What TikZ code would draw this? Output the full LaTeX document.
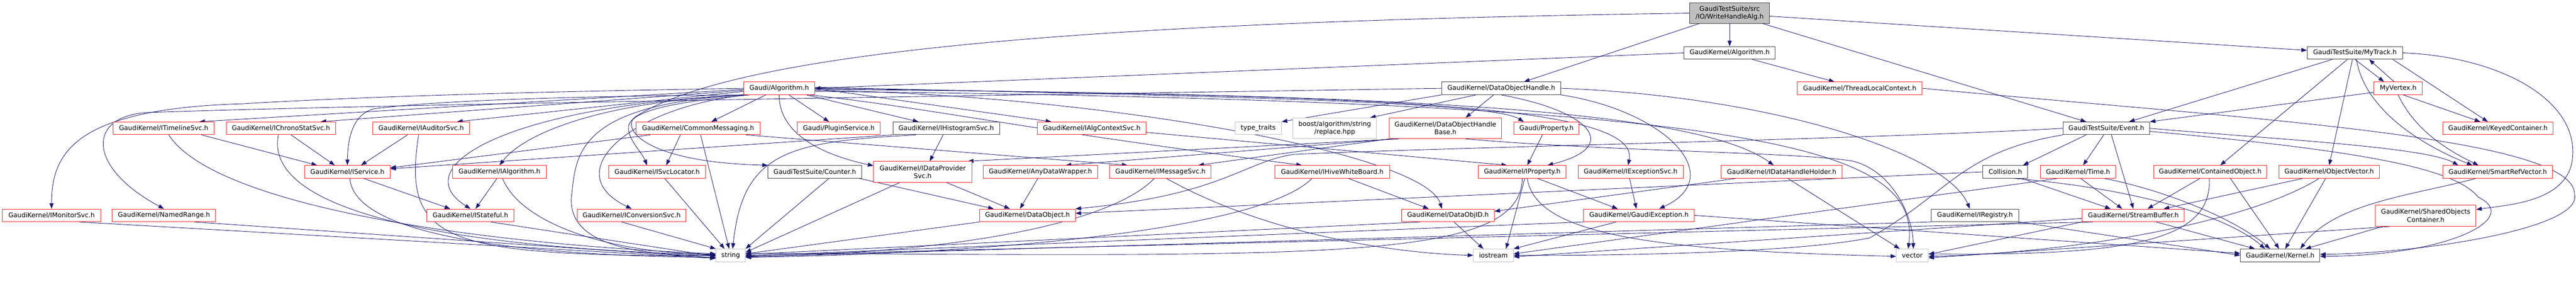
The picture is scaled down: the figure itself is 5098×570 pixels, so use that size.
\documentclass[tikz,border=0pt]{standalone}
\usepackage{fontspec}
\setmainfont{DejaVu Sans}
\usetikzlibrary{arrows.meta}
\definecolor{edgec}{HTML}{191970}
\definecolor{redc}{HTML}{FF2020}
\definecolor{blkc}{HTML}{404040}
\definecolor{gryc}{HTML}{BFBFBF}
\definecolor{rootfill}{HTML}{BFBFBF}
\pgfdeclarelayer{bg}
\pgfsetlayers{bg,main}
\newcommand\gnode[7]{\node[#1,minimum width=#5pt,minimum height=#6pt] (#2) at (#3,#4) {#7};}
\begin{document}
\begin{tikzpicture}[x=1pt,y=-1pt,
  nbox/.style={draw, fill=white, line width=1pt, inner sep=0pt, align=center, text=black,
               font=\fontsize{12.9}{15.5}\selectfont},
  redb/.style={nbox, draw=redc},
  blk/.style={nbox, draw=blkc},
  gry/.style={nbox, draw=gryc},
  rootbox/.style={nbox, draw=blkc, fill=rootfill},
  conn/.style={draw=edgec, line width=0.9pt, -{Triangle[length=11pt,width=8pt]}}]
\useasboundingbox (0,0) rectangle (5098,570);
% ---------------- nodes
\gnode{rootbox}{root}{3423}{26}{158}{40}{GaudiTestSuite/src\\/IO/WriteHandleAlg.h}
\gnode{blk}{GKAlg}{3423}{104.5}{180}{25}{GaudiKernel/Algorithm.h}
\gnode{blk}{MyTrack}{4660.5}{104.5}{189}{25}{GaudiTestSuite/MyTrack.h}
\gnode{redb}{GA}{1542}{174.5}{140}{25}{Gaudi/Algorithm.h}
\gnode{blk}{DOH}{2971}{174.5}{236}{25}{GaudiKernel/DataObjectHandle.h}
\gnode{redb}{TLC}{3680.5}{174.5}{247}{25}{GaudiKernel/ThreadLocalContext.h}
\gnode{redb}{MyVertex}{4746}{174.5}{96}{25}{MyVertex.h}
% row 3
\gnode{redb}{ITimelineSvc}{324}{253.5}{200}{25}{GaudiKernel/ITimelineSvc.h}
\gnode{redb}{IChronoStatSvc}{556}{253.5}{216}{25}{GaudiKernel/IChronoStatSvc.h}
\gnode{redb}{IAuditorSvc}{833.5}{253.5}{191}{25}{GaudiKernel/IAuditorSvc.h}
\gnode{redb}{CommonMessaging}{1381.5}{253.5}{245}{25}{GaudiKernel/CommonMessaging.h}
\gnode{redb}{PluginService}{1660}{253.5}{164}{25}{Gaudi/PluginService.h}
\gnode{blk}{IHistogramSvc}{1872.5}{253.5}{211}{25}{GaudiKernel/IHistogramSvc.h}
\gnode{redb}{IAlgContextSvc}{2160.5}{253.5}{215}{25}{GaudiKernel/IAlgContextSvc.h}
\gnode{gry}{typetraits}{2490}{253.5}{92}{25}{type\_traits}
\gnode{gry}{boost}{2641.5}{253.5}{165}{41}{boost/algorithm/string\\/replace.hpp}
\gnode{redb}{DOHBase}{2860.5}{253.5}{223}{41}{GaudiKernel/DataObjectHandle\\Base.h}
\gnode{redb}{Property}{3060.5}{253.5}{129}{25}{Gaudi/Property.h}
\gnode{blk}{Event}{4168.5}{253.5}{171}{25}{GaudiTestSuite/Event.h}
\gnode{redb}{KeyedContainer}{4943.5}{253.5}{219}{25}{GaudiKernel/KeyedContainer.h}
% row 4
\gnode{redb}{IService}{687.5}{339.5}{169}{25}{GaudiKernel/IService.h}
\gnode{redb}{IAlgorithm}{988.5}{339.5}{185}{25}{GaudiKernel/IAlgorithm.h}
\gnode{redb}{ISvcLocator}{1300.5}{339.5}{191}{25}{GaudiKernel/ISvcLocator.h}
\gnode{blk}{Counter}{1612.5}{339.5}{185}{25}{GaudiTestSuite/Counter.h}
\gnode{redb}{IDataProviderSvc}{1826}{339.5}{194}{41}{GaudiKernel/IDataProvider\\Svc.h}
\gnode{redb}{AnyDataWrapper}{2059}{339.5}{226}{25}{GaudiKernel/AnyDataWrapper.h}
\gnode{redb}{IMessageSvc}{2296.5}{339.5}{201}{25}{GaudiKernel/IMessageSvc.h}
\gnode{redb}{IHiveWhiteBoard}{2636.5}{339.5}{227}{25}{GaudiKernel/IHiveWhiteBoard.h}
\gnode{redb}{IProperty}{3012.5}{339.5}{173}{25}{GaudiKernel/IProperty.h}
\gnode{redb}{IExceptionSvc}{3227}{339.5}{208}{25}{GaudiKernel/IExceptionSvc.h}
\gnode{redb}{IDataHandleHolder}{3526}{339.5}{240}{25}{GaudiKernel/IDataHandleHolder.h}
\gnode{blk}{Collision}{3968.5}{339.5}{89}{25}{Collision.h}
\gnode{redb}{Time}{4112.5}{339.5}{149}{25}{GaudiKernel/Time.h}
\gnode{redb}{ContainedObject}{4374}{339.5}{224}{25}{GaudiKernel/ContainedObject.h}
\gnode{redb}{ObjectVector}{4609.5}{339.5}{199}{25}{GaudiKernel/ObjectVector.h}
\gnode{redb}{SmartRefVector}{4943}{339.5}{218}{25}{GaudiKernel/SmartRefVector.h}
% row 5
\gnode{redb}{IMonitorSvc}{102}{425.5}{194}{25}{GaudiKernel/IMonitorSvc.h}
\gnode{redb}{NamedRange}{324.5}{425.5}{205}{25}{GaudiKernel/NamedRange.h}
\gnode{redb}{IStateful}{931}{425.5}{172}{25}{GaudiKernel/IStateful.h}
\gnode{redb}{IConversionSvc}{1250}{425.5}{216}{25}{GaudiKernel/IConversionSvc.h}
\gnode{redb}{DataObject}{2033.5}{425.5}{189}{25}{GaudiKernel/DataObject.h}
\gnode{redb}{DataObjID}{2865.5}{425.5}{183}{25}{GaudiKernel/DataObjID.h}
\gnode{redb}{GaudiException}{3243.5}{425.5}{219}{25}{GaudiKernel/GaudiException.h}
\gnode{blk}{IRegistry}{3908.5}{425.5}{173}{25}{GaudiKernel/IRegistry.h}
\gnode{redb}{StreamBuffer}{4222}{425.5}{202}{25}{GaudiKernel/StreamBuffer.h}
\gnode{redb}{SharedObjectsContainer}{4800.5}{426}{199}{42}{GaudiKernel/SharedObjects\\Container.h}
% row 6
\gnode{gry}{string}{1446}{504.5}{58}{25}{string}
\gnode{gry}{iostream}{2955.5}{504.5}{79}{25}{iostream}
\gnode{gry}{vector}{3784.5}{504.5}{63}{25}{vector}
\gnode{blk}{Kernel}{4512.5}{504.5}{157}{25}{GaudiKernel/Kernel.h}
% ---------------- edges
\begin{pgfonlayer}{bg}
\fill[white] (0,0) rectangle (5098,570);
% root
\draw[conn] (root.south) -- (GKAlg.north);
\draw[conn] ([xshift=-60pt]root.south) -- ([xshift=45pt]DOH.north);
\draw[conn] ([xshift=65pt]root.south) -- ([xshift=-40pt]Event.north);
\draw[conn] ([yshift=-6pt]root.east) -- ([yshift=5pt]MyTrack.west);
\draw[conn] (root.west) .. controls (2400,40) and (1500,80) .. (1262,228) .. controls (1225,245) and (1260,320) .. (Counter.north west);
% GaudiKernel/Algorithm.h
\draw[conn] (GKAlg.west) -- (GA.east);
\draw[conn] ([xshift=45pt]GKAlg.south) -- ([xshift=-50pt]TLC.north);
% Gaudi/Algorithm.h
\draw[conn] (GA.west) .. controls (1000,182) and (700,192) .. (480,205) .. controls (150,215) and (102,300) .. (IMonitorSvc.north);
\draw[conn] ([yshift=-2pt]GA.west) -- ([xshift=-30pt]ITimelineSvc.north east);
\draw[conn] ([yshift=-4pt]GA.west) -- ([xshift=-30pt]IChronoStatSvc.north east);
\draw[conn] ([yshift=-6pt]GA.west) -- ([xshift=-25pt]IAuditorSvc.north east);
\draw[conn] (GA.south west) .. controls (1100,190) and (850,200) .. (740,215) .. controls (700,225) and (688,270) .. (IService.north);
\draw[conn] ([xshift=3pt]GA.south west) .. controls (1200,200) and (1040,260) .. (IAlgorithm.north);
\draw[conn] ([xshift=1pt]GA.south west) .. controls (1000,210) and (800,330) .. (IStateful.north);
\draw[conn] ([xshift=8pt]GA.south west) .. controls (1250,210) and (1100,340) .. (IConversionSvc.north);
\draw[conn] ([xshift=12pt]GA.south west) .. controls (1350,200) and (1260,215) .. (1245,245) .. controls (1237,270) and (1270,300) .. ([xshift=-20pt]ISvcLocator.north);
\draw[conn] ([xshift=5pt]GA.south west) .. controls (1150,205) and (1140,300) .. (1132,380) .. controls (1115,480) and (1250,505) .. (string.west);
\draw[conn] (GA) -- (CommonMessaging);
\draw[conn] (GA) -- (PluginService);
\draw[conn] (GA) -- ([xshift=-55pt]IHistogramSvc.north);
\draw[conn] (GA.south) .. controls (1541,250) and (1600,300) .. ([yshift=12pt]IDataProviderSvc.west);
\draw[conn] (GA.east) -- ([xshift=-80pt]IAlgContextSvc.north);
\draw[conn] ([xshift=-10pt]GA.south east) .. controls (1850,215) and (1990,250) .. ([xshift=-60pt]IHiveWhiteBoard.north);
\draw[conn] ([yshift=2pt]GA.east) .. controls (2400,190) and (2950,200) .. ([xshift=-45pt]Property.north);
\draw[conn] (GA.east) .. controls (2600,190) and (3250,195) .. ([xshift=-5pt]IExceptionSvc.north);
\draw[conn] ([yshift=-2pt]GA.east) .. controls (2700,185) and (3350,210) .. ([xshift=-16pt]IDataHandleHolder.north);
\draw[conn] ([yshift=-4pt]GA.east) .. controls (2150,185) and (2820,300) .. ([xshift=-12pt]DataObjID.north);
\draw[conn] ([yshift=-6pt]GA.east) .. controls (3500,200) and (3800,290) .. ([xshift=-8pt]vector.north);
% DataObjectHandle.h
\draw[conn] ([xshift=-50pt]DOH.south) -- ([xshift=70pt]boost.north);
\draw[conn] ([xshift=-15pt]DOH.south) -- ([xshift=40pt]DOHBase.north);
\draw[conn] (DOH.south west) -- (typetraits.north east);
\draw[conn] (DOH.west) .. controls (2000,188) and (800,205) .. (300,222) .. controls (170,225) and (170,330) .. (NamedRange.north);
\draw[conn] (DOH.south) .. controls (3150,220) and (3210,290) .. ([xshift=50pt]IProperty.north);
\draw[conn] (DOH.south east) .. controls (3300,220) and (3420,350) .. ([xshift=40pt]GaudiException.north);
\draw[conn] (DOH.east) .. controls (3500,190) and (3850,300) .. ([xshift=-10pt]IRegistry.north);
% ThreadLocalContext
\draw[conn] (TLC.east) .. controls (4450,235) and (5100,270) .. (5095,385) .. controls (5110,450) and (4800,500) .. ([yshift=2pt]Kernel.east);
% MyTrack / MyVertex
\draw[conn] (MyTrack.south) -- ([xshift=-28pt]MyVertex.north);
\draw[conn] ([xshift=-8pt]MyVertex.north) -- ([xshift=28pt]MyTrack.south);
\draw[conn] ([xshift=-45pt]MyTrack.south) -- ([xshift=45pt]Event.north);
\draw[conn] ([xshift=75pt]MyTrack.south) -- ([xshift=-20pt]KeyedContainer.north);
\draw[conn] ([xshift=-15pt]MyTrack.south) -- ([xshift=20pt]ContainedObject.north);
\draw[conn] ([xshift=-5pt]MyTrack.south) -- (ObjectVector.north);
\draw[conn] ([xshift=3pt]MyTrack.south) .. controls (4680,220) and (4800,290) .. ([xshift=-50pt]SmartRefVector.north);
\draw[conn] (MyTrack.east) .. controls (4950,112) and (5110,200) .. (5090,320) .. controls (5075,400) and (4960,405) .. ([yshift=12pt]SharedObjectsContainer.east);
\draw[conn] ([yshift=-8pt]MyVertex.west) -- (Event.north east);
\draw[conn] ([xshift=10pt]MyVertex.south) -- ([xshift=-35pt]KeyedContainer.north);
\draw[conn] (MyVertex.south) .. controls (4780,260) and (4850,300) .. ([xshift=-38pt]SmartRefVector.north);
% Event
\draw[conn] ([xshift=-40pt]Event.south) -- ([xshift=35pt]Collision.north);
\draw[conn] ([xshift=-5pt]Event.south) -- ([xshift=10pt]Time.north);
\draw[conn] ([xshift=10pt]Event.south) -- (StreamBuffer.north);
\draw[conn] (Event.west) .. controls (3700,275) and (2900,290) .. (2560,305) .. controls (2460,320) and (2420,385) .. (DataObject.north east);
\draw[conn] (Event.east) .. controls (4500,275) and (4800,290) .. ([xshift=-78pt]SmartRefVector.north);
\draw[conn] ([yshift=-6pt]Event.east) .. controls (4700,300) and (4860,335) .. (4905,390) .. controls (4990,430) and (4850,505) .. ([yshift=-2pt]Kernel.east);
\draw[conn] (Event.south west) .. controls (3880,300) and (3860,380) .. (3700,470) .. controls (3550,500) and (3200,505) .. (iostream.east);
% Collision, Time
\draw[conn] (Collision.west) -- ([yshift=4pt]DataObject.east);
\draw[conn] ([xshift=33pt]Collision.south) -- ([xshift=-45pt]StreamBuffer.north);
\draw[conn] ([xshift=17pt]Collision.south) .. controls (4200,370) and (4400,420) .. ([xshift=-30pt]Kernel.north);
\draw[conn] ([xshift=5pt]Time.south) -- ([xshift=-22pt]StreamBuffer.north);
\draw[conn] ([xshift=52pt]Time.south) .. controls (4280,375) and (4420,430) .. ([xshift=-20pt]Kernel.north);
\draw[conn] ([xshift=-40pt]Time.south) -- ([yshift=3pt]iostream.east);
% StreamBuffer
\draw[conn] ([xshift=45pt]StreamBuffer.south) -- ([xshift=-50pt]Kernel.north);
\draw[conn] (StreamBuffer.south west) -- ([yshift=2pt]vector.east);
\draw[conn] ([yshift=-6pt]StreamBuffer.west) -- ([yshift=-3pt]iostream.east);
\draw[conn] ([xshift=-80pt]StreamBuffer.south) -- (string.east);
% ContainedObject, ObjectVector, SmartRefVector, SharedObjectsContainer
\draw[conn] ([xshift=-20pt]ContainedObject.south) -- ([xshift=28pt]StreamBuffer.north);
\draw[conn] ([xshift=40pt]ContainedObject.south) -- ([xshift=-2pt]Kernel.north);
\draw[conn] ([xshift=-2pt]ContainedObject.south) .. controls (4380,480) and (4200,505) .. ([yshift=3pt]vector.east);
\draw[conn] ([xshift=-52pt]ObjectVector.south) -- ([xshift=60pt]StreamBuffer.north);
\draw[conn] ([xshift=-7pt]ObjectVector.south) -- ([xshift=10pt]Kernel.north);
\draw[conn] ([xshift=-20pt]ObjectVector.south) .. controls (4450,440) and (4100,500) .. ([yshift=-2pt]vector.east);
\draw[conn] ([xshift=-43pt]SmartRefVector.south) .. controls (4780,385) and (4620,400) .. ([xshift=40pt]Kernel.north);
\draw[conn] ([xshift=-85pt]SharedObjectsContainer.south) -- ([xshift=50pt]Kernel.north);
\draw[conn] ([xshift=-70pt]SharedObjectsContainer.south) -- ([yshift=-5pt]vector.east);
% IRegistry, GaudiException, DataObjID
\draw[conn] (IRegistry.south east) -- (Kernel.west);
\draw[conn] (IRegistry.south west) -- ([yshift=-3pt]string.east);
\draw[conn] (GaudiException.east) -- ([yshift=4pt]Kernel.west);
\draw[conn] ([xshift=-45pt]GaudiException.south) -- (iostream.north east);
\draw[conn] (GaudiException.south west) -- ([yshift=-1pt]string.east);
\draw[conn] ([xshift=12pt]DataObjID.south) -- ([xshift=-20pt]iostream.north);
\draw[conn] ([xshift=-55pt]DataObjID.south) -- ([yshift=2pt]string.east);
% IDataHandleHolder, IExceptionSvc, IProperty, Property
\draw[conn] ([xshift=12pt]IDataHandleHolder.south) -- ([xshift=-25pt]vector.north);
\draw[conn] ([xshift=-90pt]IDataHandleHolder.south) -- ([yshift=8pt]DataObjID.east);
\draw[conn] ([xshift=-2pt]IExceptionSvc.south) -- ([xshift=-5pt]GaudiException.north);
\draw[conn] ([xshift=30pt]IProperty.south) -- ([xshift=-42pt]GaudiException.north);
\draw[conn] ([xshift=5pt]IProperty.south) -- ([xshift=25pt]iostream.north);
\draw[conn] (IProperty.south) .. controls (3010,520) and (2600,505) .. ([yshift=4pt]string.east);
\draw[conn] ([xshift=10pt]IProperty.south) .. controls (3040,470) and (3300,495) .. ([yshift=-2pt]vector.west);
\draw[conn] ([xshift=-8pt]Property.south) -- ([xshift=10pt]IProperty.north);
% IHiveWhiteBoard, IMessageSvc
\draw[conn] ([xshift=32pt]IHiveWhiteBoard.south) -- ([xshift=-38pt]DataObjID.north);
\draw[conn] ([xshift=-40pt]IHiveWhiteBoard.south) .. controls (2500,450) and (2000,500) .. ([yshift=-4pt]string.east);
\draw[conn] ([xshift=-12pt]IMessageSvc.south) .. controls (2200,440) and (1900,500) .. ([yshift=-2pt]string.east);
\draw[conn] ([xshift=12pt]IMessageSvc.south) .. controls (2500,460) and (2750,500) .. (iostream.west);
% DataObject providers
\draw[conn] ([xshift=-5pt]AnyDataWrapper.south) -- ([xshift=-15pt]DataObject.north);
\draw[conn] ([xshift=47pt]IDataProviderSvc.south) -- ([xshift=-35pt]DataObject.north);
\draw[conn] ([xshift=-45pt]IDataProviderSvc.south) -- ([yshift=6pt]string.east);
\draw[conn] (DataObject.south west) -- ([yshift=3pt]string.east);
\draw[conn] ([xshift=-5pt]Counter.south east) -- ([xshift=-67pt]DataObject.north);
\draw[conn] ([xshift=28pt]Counter.south) -- (string.north east);
% IHistogramSvc, IAlgContextSvc
\draw[conn] ([xshift=-6pt]IHistogramSvc.south) -- ([xshift=14pt]IDataProviderSvc.north);
\draw[conn] (IHistogramSvc.south west) -- ([yshift=6pt]IService.east);
\draw[conn] ([xshift=-60pt]IHistogramSvc.south) .. controls (1560,280) and (1470,300) .. ([xshift=4pt]string.north);
\draw[conn] ([yshift=-8pt]IAlgContextSvc.east) -- ([xshift=-30pt]IProperty.north);
% DataObjectHandleBase
\draw[conn] (DOHBase.south west) -- ([xshift=75pt]IMessageSvc.north);
\draw[conn] ([xshift=10pt]DOHBase.south west) -- ([xshift=50pt]AnyDataWrapper.north);
\draw[conn] ([xshift=20pt]DOHBase.south west) -- ([xshift=-8pt]IDataProviderSvc.north east);
\draw[conn] ([xshift=40pt]DOHBase.south) .. controls (3200,300) and (3550,300) .. (3665,318) .. controls (3740,335) and (3785,420) .. ([xshift=2pt]vector.north);
% CommonMessaging
\draw[conn] ([xshift=-95pt]CommonMessaging.south) -- ([yshift=8pt]IService.east);
\draw[conn] ([xshift=-35pt]CommonMessaging.south) -- ([xshift=18pt]ISvcLocator.north);
\draw[conn] ([xshift=95pt]CommonMessaging.south) -- ([xshift=-65pt]IMessageSvc.north);
\draw[conn] ([xshift=5pt]CommonMessaging.south) -- ([xshift=-3pt]string.north);
% left side to string
\draw[conn] ([xshift=15pt]ISvcLocator.south) -- ([xshift=-12pt]string.north);
\draw[conn] ([xshift=-20pt]IConversionSvc.south) -- (string.north west);
\draw[conn] ([xshift=40pt]IStateful.south) -- ([yshift=-2pt]string.west);
\draw[conn] ([xshift=-5pt]IAlgorithm.south) -- ([xshift=10pt]IStateful.north);
\draw[conn] ([xshift=6pt]IAlgorithm.south) .. controls (1030,440) and (1200,500) .. ([yshift=2pt]string.west);
\draw[conn] ([xshift=32pt]IService.south) -- ([xshift=-40pt]IStateful.north);
\draw[conn] ([xshift=5pt]IService.south) .. controls (700,460) and (1000,505) .. ([yshift=-4pt]string.west);
\draw[conn] ([xshift=75pt]ITimelineSvc.south) -- ([xshift=-60pt]IService.north);
\draw[conn] ([xshift=10pt]ITimelineSvc.south) .. controls (420,400) and (900,480) .. ([yshift=3pt]string.west);
\draw[conn] ([xshift=20pt]IChronoStatSvc.south) -- ([xshift=-25pt]IService.north);
\draw[conn] ([xshift=-5pt]IChronoStatSvc.south) .. controls (520,420) and (900,490) .. ([yshift=1pt]string.west);
\draw[conn] ([xshift=-27pt]IAuditorSvc.south) -- ([xshift=27pt]IService.north);
\draw[conn] ([xshift=-5pt]IAuditorSvc.south) .. controls (795,480) and (880,505) .. ([yshift=-1pt]string.west);
\draw[conn] ([xshift=55pt]IMonitorSvc.south) -- ([yshift=-6pt]string.west);
\draw[conn] ([xshift=60pt]NamedRange.south) -- ([yshift=-5pt]string.west);
\end{pgfonlayer}
\end{tikzpicture}
\end{document}
